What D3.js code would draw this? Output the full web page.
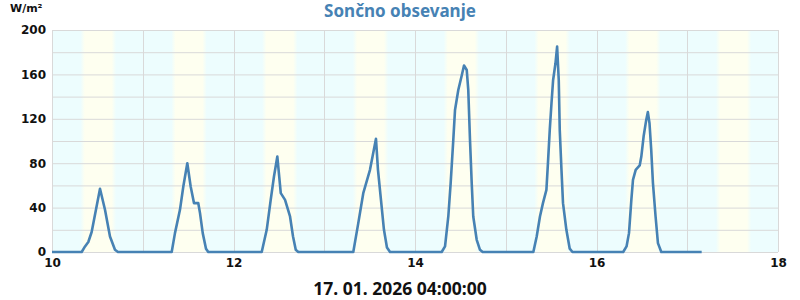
<!DOCTYPE html>
<html><head><meta charset="utf-8">
<script src="https://cdn.jsdelivr.net/npm/d3@7"></script>
<style>body{margin:0;background:#fff;} svg{display:block;}</style>
</head><body>
<svg id="c" width="800" height="300"></svg>
<script>
// time in decimal day-of-month, value in W/m²
const times = [10.0,
 10.327,10.364,10.400,10.437,10.529,10.584,10.639,10.694,10.727,
 11.319,11.355,11.410,11.447,11.491,11.528,11.565,11.612,11.631,11.661,11.697,11.722,
 12.311,12.366,12.410,12.446,12.483,12.521,12.568,12.623,12.656,12.686,12.714,
 13.320,13.375,13.430,13.504,13.570,13.592,13.625,13.658,13.691,13.725,
 14.294,14.331,14.367,14.393,14.422,14.441,14.477,14.515,14.540,14.570,14.587,14.606,14.625,14.642,14.680,14.716,14.746,
 15.304,15.341,15.377,15.410,15.448,15.465,15.485,15.504,15.522,15.548,15.566,15.584,15.595,15.614,15.631,15.668,15.705,15.735,
 16.294,16.331,16.358,16.384,16.402,16.432,16.476,16.494,16.519,16.548,16.566,16.584,16.603,16.622,16.651,16.677,16.714,
 17.159];
const values = [0,
 0,5,9,18,57,38,14,2,0,
 0,17,38,59,80,59,44,44,35,17,3,0,
 0,20,47,68,86,53,47,32,14,2,0,
 0,26,53,74,102,74,47,20,4,0,
 0,5,32,62,101,128,146,159,168,164,146,101,62,32,11,2,0,
 0,14,32,44,56,80,110,134,155,170,185,155,110,74,44,20,3,0,
 0,5,17,47,65,74,78,86,104,119,126,116,92,62,32,8,0,
 0];
const days = [10,11,12,13,14,15,16,17];
const sunrise = [0.335,0.335,0.335,0.335,0.335,0.335,0.335,0.335];
const sunset  = [0.685,0.685,0.685,0.685,0.685,0.685,0.685,0.685];
const xTicks = [10,12,14,16,18];
const yTicks = [0,40,80,120,160,200];
const title = "Sončno obsevanje";
const unit = "W/m²";
const stamp = "17. 01. 2026 04:00:00";

const svg = d3.select("#c");
const L = 52, R = 778, T = 30, B = 252;
const x = d3.scaleLinear().domain([10,18]).range([L,R]);
const y = d3.scaleLinear().domain([0,200]).range([B,T]);

const defs = svg.append("defs");
const night = "#edfdfe", day = "#fefff0";
const g = defs.append("linearGradient").attr("id","dayg").attr("x1","0").attr("x2","1").attr("y1","0").attr("y2","0");
[[0,night],[0.12,day],[0.88,day],[1,night]].forEach(s=>g.append("stop").attr("offset",s[0]).attr("stop-color",s[1]));

svg.append("rect").attr("x",L).attr("y",T).attr("width",R-L).attr("height",B-T).attr("fill",night);
svg.append("g").selectAll("rect").data(days).join("rect")
  .attr("x",(d,i)=>x(d+sunrise[i]-0.02)).attr("y",T)
  .attr("width",(d,i)=>x(d+sunset[i]+0.02)-x(d+sunrise[i]-0.02)).attr("height",B-T)
  .attr("fill","url(#dayg)");

// grid
svg.append("g").selectAll("line").data(d3.range(0,201,20)).join("line")
  .attr("x1",L).attr("x2",R).attr("y1",d=>y(d)+0.5).attr("y2",d=>y(d)+0.5)
  .attr("stroke","#d9d9d9").attr("stroke-width",1);
svg.append("g").selectAll("line").data(d3.range(10,19,1)).join("line")
  .attr("x1",d=>Math.round(x(d))+0.5).attr("x2",d=>Math.round(x(d))+0.5).attr("y1",T).attr("y2",B)
  .attr("stroke","#d9d9d9").attr("stroke-width",1);

// axes labels
const yAxis = d3.axisLeft(y).tickValues(yTicks).tickSize(0).tickPadding(8);
const ya = svg.append("g").attr("transform",`translate(${L},0)`).call(yAxis);
ya.select(".domain").remove();
ya.selectAll("text").attr("font-family","DejaVu Sans").attr("font-weight","bold").attr("font-size",12).attr("fill","#111").attr("dx",2);
const xAxis = d3.axisBottom(x).tickValues(xTicks).tickSize(0).tickPadding(6);
const xa = svg.append("g").attr("transform",`translate(0,${B})`).call(xAxis);
xa.select(".domain").remove();
xa.selectAll("text").attr("font-family","DejaVu Sans").attr("font-weight","bold").attr("font-size",12).attr("fill","#111");

// line
const line = d3.line().x((d,i)=>x(times[i])).y(d=>y(d));
svg.append("path").datum(values).attr("d",line).attr("fill","none")
  .attr("stroke","#4682b4").attr("stroke-width",2.6).attr("stroke-linejoin","round");

svg.append("text").attr("x",400).attr("y",17).attr("text-anchor","middle")
  .attr("font-family","Noto Sans").attr("font-weight","bold").attr("font-size",17).attr("fill","#4682b4").text(title);
svg.append("text").attr("x",10).attr("y",12).attr("font-family","DejaVu Sans").attr("font-weight","bold").attr("font-size",11).attr("fill","#111").text(unit);
svg.append("text").attr("x",400).attr("y",295).attr("text-anchor","middle")
  .attr("font-family","Noto Sans").attr("font-weight","bold").attr("font-size",17.5).attr("fill","#111").text(stamp);
</script>
</body></html>
